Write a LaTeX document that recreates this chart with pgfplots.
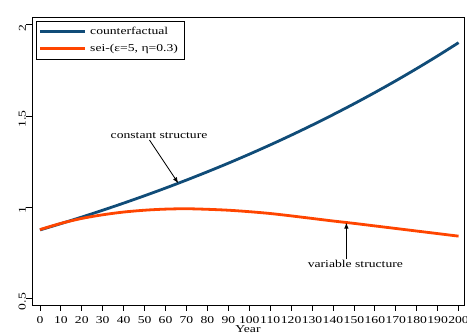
\documentclass[border=0pt]{standalone}
\usepackage{fontspec}
\setmainfont{Liberation Serif}[FakeStretch=1.3]
\usepackage{pgfplots}
\pgfplotsset{compat=1.18}
\usetikzlibrary{arrows.meta}
\definecolor{cfblue}{RGB}{16,76,120}
\definecolor{seiorange}{RGB}{255,69,0}
\begin{document}
\begin{tikzpicture}
\begin{axis}[
  scale only axis,
  width=432pt, height=288pt,
  xmin=-3.8, xmax=202.6,
  ymin=0.465, ymax=2.042,
  xtick={0,10,...,200},
  ytick={0.5,1,1.5,2},
  yticklabels={0.5,1,1.5,2},
  xtick pos=bottom, ytick pos=left,
  tick align=outside,
  major tick length=6pt,
  every tick/.style={black, line width=0.8pt},
  axis line style={black, line width=0.9pt},
  /pgf/number format/assume math mode=true,
  tick label style={font=\fontsize{10.5}{12}\selectfont},
  yticklabel style={rotate=90, anchor=south, inner sep=0pt, xshift=-3pt},
  xticklabel style={inner sep=0pt, yshift=-5pt},
  xlabel={Year},
  xlabel style={font=\fontsize{10.5}{12}\selectfont, inner sep=0pt, yshift=-2pt},
  legend style={draw=black, line width=0.8pt, at={(rel axis cs:0,1)}, anchor=north west,
    xshift=4pt, yshift=-4pt, font=\fontsize{10.5}{12}\selectfont,
    inner xsep=2pt, inner ysep=3pt, row sep=2pt,
    nodes={inner xsep=4pt, inner ysep=3pt}},
  legend cell align=left,
  legend image code/.code={\draw[#1, line width=2.8pt] (0pt,0pt) -- (45pt,0pt);},
]
\addplot[cfblue, line width=2.8pt, smooth] coordinates {
(0,0.876) (10,0.9106) (20,0.9466) (30,0.984) (40,1.0229) (50,1.0633)
(60,1.1053) (70,1.149) (80,1.1944) (90,1.2415) (100,1.2906) (110,1.3416)
(120,1.3946) (130,1.4497) (140,1.507) (150,1.5665) (160,1.6284) (170,1.6927)
(180,1.7596) (190,1.8291) (200,1.9014)};
\addlegendentry{counterfactual}
\addplot[seiorange, line width=2.8pt, smooth] coordinates {
(0,0.878) (10,0.912) (20,0.939) (30,0.959) (40,0.974) (50,0.984)
(60,0.990) (70,0.992) (80,0.989) (90,0.984) (100,0.976) (110,0.966)
(120,0.953) (130,0.939) (140,0.925) (150,0.912) (160,0.898) (170,0.884)
(180,0.870) (190,0.856) (200,0.842)};
\addlegendentry{sei-(ε=5, η=0.3)}
\node[font=\fontsize{10.5}{12}\selectfont, inner sep=0pt] at (axis cs:56.9,1.392) {constant structure};
\draw[-{Latex[length=6pt,width=4.5pt]}, line width=0.8pt] (axis cs:52.3,1.3686) -- (axis cs:66.1,1.1314);
\node[font=\fontsize{10.5}{12}\selectfont, inner sep=0pt] at (axis cs:150.7,0.688) {variable structure};
\draw[-{Latex[length=6pt,width=4.5pt]}, line width=0.8pt] (axis cs:146.4,0.715) -- (axis cs:146.4,0.916);
\coordinate (bl) at (rel axis cs:0,0);
\coordinate (tr) at (rel axis cs:1,1);
\end{axis}
\pgfresetboundingbox
\path[use as bounding box] ([shift={(-32pt,-31pt)}]bl) rectangle ([shift={(3pt,17pt)}]tr);
\end{tikzpicture}
\end{document}
